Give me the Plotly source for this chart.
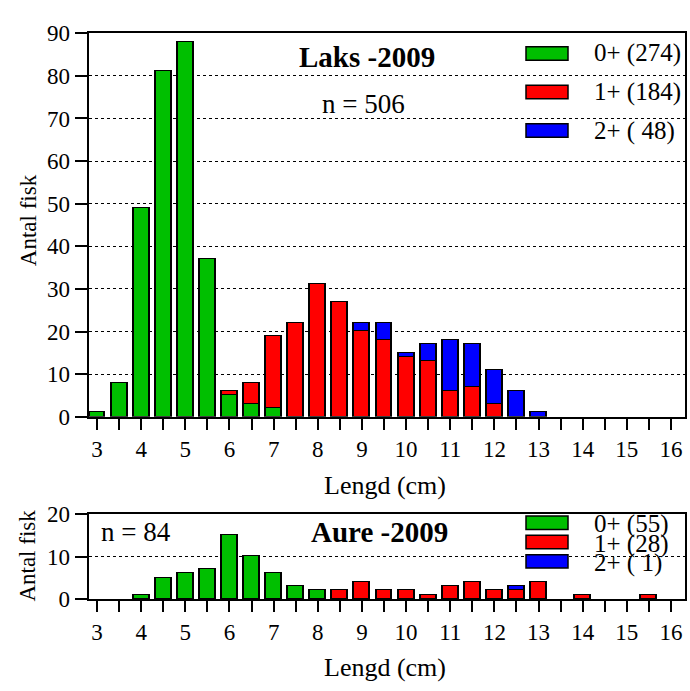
import plotly.graph_objects as go

# Length classes (cm), 0.5 cm bins
lengths = [3.0, 3.5, 4.0, 4.5, 5.0, 5.5, 6.0, 6.5, 7.0, 7.5, 8.0, 8.5, 9.0, 9.5,
           10.0, 10.5, 11.0, 11.5, 12.0, 12.5, 13.0, 13.5, 14.0, 14.5, 15.0, 15.5, 16.0]

# Laks (salmon) 2009, counts per age group
laks_0 = [1, 8, 49, 81, 88, 37, 5, 3, 2, 0, 0, 0, 0, 0, 0, 0, 0, 0, 0, 0, 0, 0, 0, 0, 0, 0, 0]
laks_1 = [0, 0, 0, 0, 0, 0, 1, 5, 17, 22, 31, 27, 20, 18, 14, 13, 6, 7, 3, 0, 0, 0, 0, 0, 0, 0, 0]
laks_2 = [0, 0, 0, 0, 0, 0, 0, 0, 0, 0, 0, 0, 2, 4, 1, 4, 12, 10, 8, 6, 1, 0, 0, 0, 0, 0, 0]

# Aure (trout) 2009, counts per age group
aure_0 = [0, 0, 1, 5, 6, 7, 15, 10, 6, 3, 2, 0, 0, 0, 0, 0, 0, 0, 0, 0, 0, 0, 0, 0, 0, 0, 0]
aure_1 = [0, 0, 0, 0, 0, 0, 0, 0, 0, 0, 0, 2, 4, 2, 2, 1, 3, 4, 2, 2, 4, 0, 1, 0, 0, 1, 0]
aure_2 = [0, 0, 0, 0, 0, 0, 0, 0, 0, 0, 0, 0, 0, 0, 0, 0, 0, 0, 0, 1, 0, 0, 0, 0, 0, 0, 0]

age_labels = ["0+", "1+", "2+"]
age_colors = ["#00bf00", "#ff0000", "#0000ff"]

x_ticks = [3 + 0.5 * i for i in range(27)]
x_tick_text = [str(int(v)) if v == int(v) else "" for v in x_ticks]

FONT = "Liberation Serif"

fig = go.Figure()


def add_stack(series, yaxis):
    for vals, color in zip(series, age_colors):
        xs = [x for x, v in zip(lengths, vals) if v > 0]
        ys = [v for v in vals if v > 0]
        fig.add_trace(go.Bar(
            x=xs, y=ys, xaxis="x" if yaxis == "y" else "x2", yaxis=yaxis,
            width=0.36, marker=dict(color=color, line=dict(color="black", width=1.5)),
            showlegend=False,
        ))


add_stack([laks_0, laks_1, laks_2], "y")
add_stack([aure_0, aure_1, aure_2], "y2")

x_dom = [88.5 / 690, 685 / 690]
top_dom = [1 - 420 / 691, 1 - 22 / 691]
bot_dom = [1 - 609 / 691, 1 - 521 / 691]
x_rng = [2.807, 16.317]

xaxis_common = dict(
    range=x_rng, domain=x_dom, tickmode="array", tickvals=x_ticks, ticktext=x_tick_text,
    ticks="outside", ticklen=11, tickwidth=1.5, tickcolor="black",
    showline=True, linecolor="black", linewidth=2, mirror=True,
    showgrid=False, zeroline=False,
    tickfont=dict(family=FONT, size=23, color="black"),
)
yaxis_common = dict(
    ticks="outside", ticklen=12, tickwidth=2, tickcolor="black",
    showline=True, linecolor="black", linewidth=2, mirror=True,
    showgrid=True, gridcolor="black", gridwidth=1, griddash="dot",
    zeroline=False, tickfont=dict(family=FONT, size=23, color="black"),
)

fig.update_layout(
    width=690, height=691,
    margin=dict(l=0, r=0, t=0, b=0),
    paper_bgcolor="white", plot_bgcolor="white",
    barmode="stack", bargap=0,
    font=dict(family=FONT, color="black"),
    xaxis=dict(anchor="y", **xaxis_common),
    yaxis=dict(domain=top_dom, anchor="x", range=[0, 90], tickvals=list(range(0, 91, 10)),
               **yaxis_common),
    xaxis2=dict(anchor="y2", **xaxis_common),
    yaxis2=dict(domain=bot_dom, anchor="x2", range=[0, 20], tickvals=[0, 10, 20],
                **yaxis_common),
)

annotations = []
shapes = []


def text(x, y, s, size=22, xanchor="center"):
    annotations.append(dict(
        x=x / 690, y=1 - y / 691, xref="paper", yref="paper", text=s, showarrow=False,
        xanchor=xanchor, yanchor="middle", font=dict(family=FONT, size=size, color="black"),
    ))


# Axis titles
text(385, 491, "Lengd (cm)", 26)
text(385, 680, "Lengd (cm)", 26)
for yc in (216, 564):
    annotations.append(dict(
        x=28 / 690, y=1 - yc / 691, xref="paper", yref="paper", text="Antal fisk",
        showarrow=False, textangle=-90, xanchor="center", yanchor="middle",
        font=dict(family=FONT, size=23, color="black"),
    ))

# Panel titles and sample sizes
laks_totals = [sum(laks_0), sum(laks_1), sum(laks_2)]
aure_totals = [sum(aure_0), sum(aure_1), sum(aure_2)]
text(367, 47, "<b>Laks -2009</b>", 29)
text(363, 95, f"n = {sum(laks_totals)}", 27)
text(379, 540, "<b>Aure -2009</b>", 29)
text(136, 540, f"n = {sum(aure_totals)}", 27)


def legend(rows_y, text_y, totals, width, size):
    for yc, ty, lab, col, n in zip(rows_y, text_y, age_labels, age_colors, totals):
        shapes.append(dict(
            type="rect", xref="paper", yref="paper",
            x0=526 / 690, x1=568 / 690, y0=1 - (yc + 7) / 691, y1=1 - (yc - 7) / 691,
            fillcolor=col, line=dict(color="black", width=1.5),
        ))
        text(592, ty, f"{lab} ({n:>{width}})".replace(" ", "\u00a0"), size, xanchor="left")


legend([43, 83, 123], [43, 83, 123], laks_totals, 3, 25)
legend([530, 550, 570], [531, 552, 572], aure_totals, 2, 25)

fig.update_layout(annotations=annotations, shapes=shapes)
fig.write_html("out.html")
